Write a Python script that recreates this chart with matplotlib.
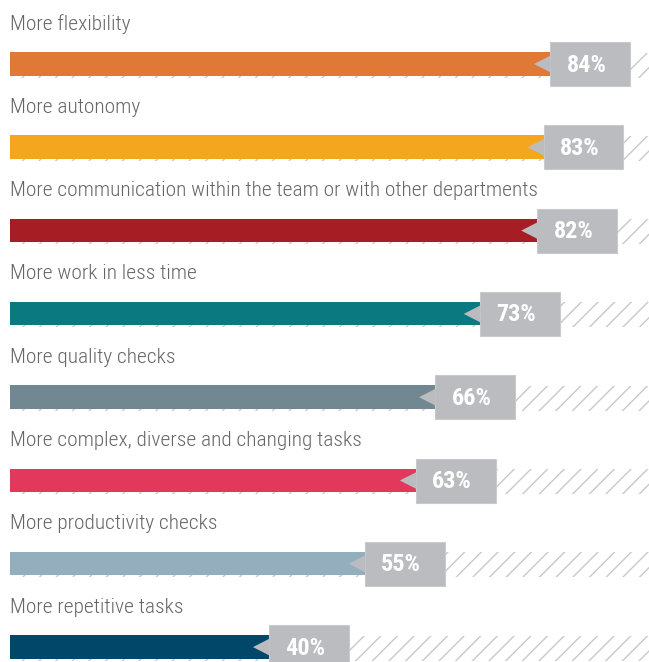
import matplotlib
matplotlib.use("Agg")
import matplotlib.pyplot as plt
from matplotlib.patches import Rectangle, Polygon

categories = [
    "More flexibility",
    "More autonomy",
    "More communication within the team or with other departments",
    "More work in less time",
    "More quality checks",
    "More complex, diverse and changing tasks",
    "More productivity checks",
    "More repetitive tasks",
]
values = [84, 83, 82, 73, 66, 63, 55, 40]
value_labels = ["84%", "83%", "82%", "73%", "66%", "63%", "55%", "40%"]
colors = ["#E07935", "#F5A61F", "#A61D24", "#0A7A80", "#718892",
          "#E2385B", "#93AFBE", "#00476A"]

fam = ["Roboto Condensed", "DejaVu Sans"]

plt.rcParams["hatch.linewidth"] = 1.0
plt.rcParams["hatch.color"] = "#C8C8C8"

fig = plt.figure(figsize=(6.49, 6.62), dpi=100)
ax = fig.add_axes([0, 0, 1, 1])
ax.set_xlim(-2.11, 99.5)
ax.set_ylim(662, 0)
ax.axis("off")

x0 = -0.55
row_gap = 83.3
for i, (cat, v, lab, c) in enumerate(zip(categories, values, value_labels, colors)):
    yc = 64 + i * row_gap
    # hatched background track
    ax.add_patch(Rectangle((x0, yc - 11.5), 99.5 - x0 + 1, 25, facecolor="white",
                           edgecolor="#C8C8C8", hatch="//", linewidth=0, zorder=1))
    # coloured bar
    ax.add_patch(Rectangle((x0, yc - 12), v - x0, 23.5, facecolor=c,
                           edgecolor="none", zorder=2))
    # label box
    ax.add_patch(Rectangle((v, yc - 22), 12.5, 44, facecolor="#BBBCBF",
                           edgecolor="#C9CACC", linewidth=0.8, zorder=3))
    ax.add_patch(Polygon([(v - 2.5, yc), (v + 0.1, yc - 8.5), (v + 0.1, yc + 8.5)],
                         closed=True, facecolor="#BBBCBF", edgecolor="none", zorder=3))
    ax.text(v + 5.7, yc + 1, lab, color="white", fontsize=17.5, fontweight="bold",
            family=fam, ha="center", va="center", zorder=4)
    # category label
    ax.text(-0.55, yc - 40, cat, color="#666666", fontsize=15.4, fontweight="light",
            family=fam, ha="left", va="center", zorder=4)

fig.savefig("out.png", dpi=100, facecolor="white")
